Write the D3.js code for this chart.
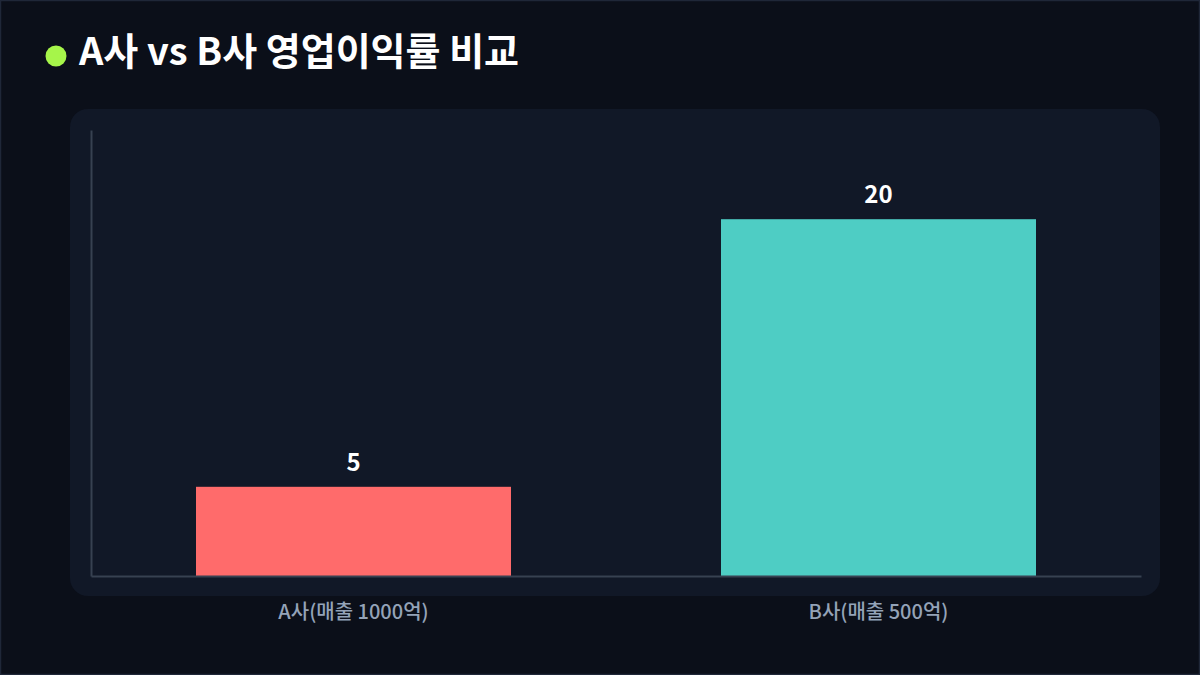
<!DOCTYPE html>
<html><head><meta charset="utf-8">
<script src="https://cdn.jsdelivr.net/npm/d3@7"></script>
<style>
html,body{margin:0;padding:0;background:#0b0f19;}
svg{display:block;font-family:"Noto Sans CJK KR","Noto Sans",sans-serif;}
</style></head><body>
<svg id="c" width="1200" height="675"></svg>
<script>
const title = "A사 vs B사 영업이익률 비교";
const categories = ["A사(매출 1000억)", "B사(매출 500억)"];
const values = [5, 20];
const colors = ["#ff6b6b", "#4ecdc4"];
const yDomain = [0, 25];

(function(){
const svg = d3.select("#c");
const W = 1200, H = 675;
svg.append("rect").attr("x",0.5).attr("y",0.5).attr("width",W-1).attr("height",H-1)
  .attr("fill","#0b0f19").attr("stroke","#1f2738").attr("stroke-width",1.5);

// title
svg.append("circle").attr("cx",56).attr("cy",56).attr("r",10.5).attr("fill","#a6f54a");
svg.append("text").attr("x",79).attr("y",65).attr("fill","#ffffff")
  .attr("font-size",38).attr("font-weight",700).text(title);

// panel
svg.append("rect").attr("x",70).attr("y",109).attr("width",1090).attr("height",487)
  .attr("rx",18).attr("fill","#111827");

const pLeft=91, pRight=1141, pTop=130, pBottom=576;
const x = d3.scaleBand().domain(categories).range([pLeft,pRight]).paddingInner(0.4).paddingOuter(0.2);
const y = d3.scaleLinear().domain(yDomain).range([pBottom,pTop]);

const yAxis = svg.append("g").attr("transform",`translate(${pLeft},0)`)
  .call(d3.axisLeft(y).ticks(0).tickSize(0).tickFormat(""));
yAxis.select(".domain").attr("stroke","#374151").attr("stroke-width",2);

svg.append("g").selectAll("rect").data(values).join("rect")
  .attr("x",(d,i)=>x(categories[i])).attr("width",x.bandwidth())
  .attr("y",d=>y(d)).attr("height",d=>pBottom-y(d))
  .attr("fill",(d,i)=>colors[i]);

const xAxis = svg.append("g").attr("transform",`translate(0,${pBottom})`)
  .call(d3.axisBottom(x).tickSize(0).tickPadding(0));
xAxis.select(".domain").attr("stroke","#374151").attr("stroke-width",2);
xAxis.selectAll("text").attr("fill","#94a3b8").attr("font-size",20).attr("font-weight",500)
  .attr("font-family",'"Noto Sans CJK KR","Noto Sans",sans-serif')
  .attr("dy",0).attr("y",43);

svg.append("g").selectAll("text").data(values).join("text")
  .attr("x",(d,i)=>x(categories[i])+x.bandwidth()/2).attr("y",d=>y(d)-16)
  .attr("text-anchor","middle").attr("fill","#ffffff").attr("font-size",24).attr("font-weight",700)
  .text(d=>d);
})();
</script></body></html>
